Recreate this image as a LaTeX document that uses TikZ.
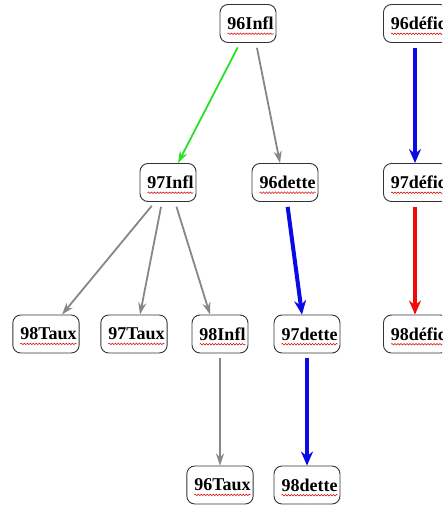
\documentclass[tikz,border=0pt]{standalone}
\usepackage{fontspec}
\setmainfont{Liberation Serif}
\usetikzlibrary{arrows.meta,decorations.pathmorphing}
\definecolor{grn}{RGB}{40,225,40}
\definecolor{gry}{RGB}{135,135,135}
\definecolor{blu}{RGB}{10,10,230}
\definecolor{rd}{RGB}{240,10,10}
\tikzset{
 bx/.style={draw=black!80, line width=0.9pt, rounded corners=8pt, minimum height=38pt,
   inner xsep=2.5pt, inner ysep=0pt, font=\fontsize{18}{20}\selectfont\bfseries, fill=white},
 wavy/.style={draw=red!85!black, line width=0.5pt, decorate,
   decoration={snake, amplitude=0.8pt, segment length=3pt}},
 grayarr/.style={draw=gry, line width=1.8pt, -{Stealth[length=12pt,width=8pt]}, shorten <=5pt},
 greenarr/.style={draw=grn, line width=1.8pt, -{Stealth[length=12pt,width=8pt]}, shorten <=5pt},
 bluearr/.style={draw=blu, line width=4pt, -{Stealth[length=14pt,width=12pt]}, shorten <=5pt},
 redarr/.style={draw=rd, line width=4pt, -{Stealth[length=14pt,width=12pt]}, shorten <=5pt},
}
\newcommand\bx[4][]{%
  \node[bx,#1] (#2) at (#3) {\hspace{5pt}#4};
  \draw[wavy] ([xshift=8pt,yshift=-4pt]#2.base west) -- ([xshift=-3pt,yshift=-4pt]#2.base east);}
\begin{document}
\begin{tikzpicture}[x=1pt,y=-1pt]
\clip (0,0) rectangle (442,505);
\fill[white] (0,0) rectangle (442,505);
\bx{inflA}{248,23.5}{96Infl}
\bx[anchor=west]{dfA}{383,23.5}{96défic}
\bx{inflB}{168,182.5}{97Infl}
\bx{detteA}{285,182.5}{96dette}
\bx[anchor=west]{dfB}{383,182.5}{97défic}
\bx{tauxA}{46,334}{98Taux}
\bx{tauxB}{134,334}{97Taux}
\bx{inflC}{220,334}{98Infl}
\bx{detteB}{307,334}{97dette}
\bx[anchor=west]{dfC}{383,334}{98défic}
\bx{tauxC}{220,485}{96Taux}
\bx{detteC}{307,485}{98dette}

\draw[greenarr] ([xshift=-8pt]inflA.south) -- ([xshift=10pt]inflB.north);
\draw[grayarr] ([xshift=8pt]inflA.south) -- ([xshift=-5pt]detteA.north);
\draw[grayarr] ([xshift=-13pt]inflB.south) -- ([xshift=16pt]tauxA.north);
\draw[grayarr] ([xshift=-6pt]inflB.south) -- ([xshift=6pt]tauxB.north);
\draw[grayarr] ([xshift=7pt]inflB.south) -- ([xshift=-10pt]inflC.north);
\draw[grayarr] (inflC.south) -- (tauxC.north);
\draw[bluearr] ([xshift=2pt]detteA.south) -- ([xshift=-5pt]detteB.north);
\draw[bluearr] (detteB.south) -- (detteC.north);
\draw[bluearr] ([xshift=32pt]dfA.south west) -- ([xshift=32pt]dfB.north west);
\draw[redarr] ([xshift=32pt]dfB.south west) -- ([xshift=32pt]dfC.north west);
\end{tikzpicture}
\end{document}
